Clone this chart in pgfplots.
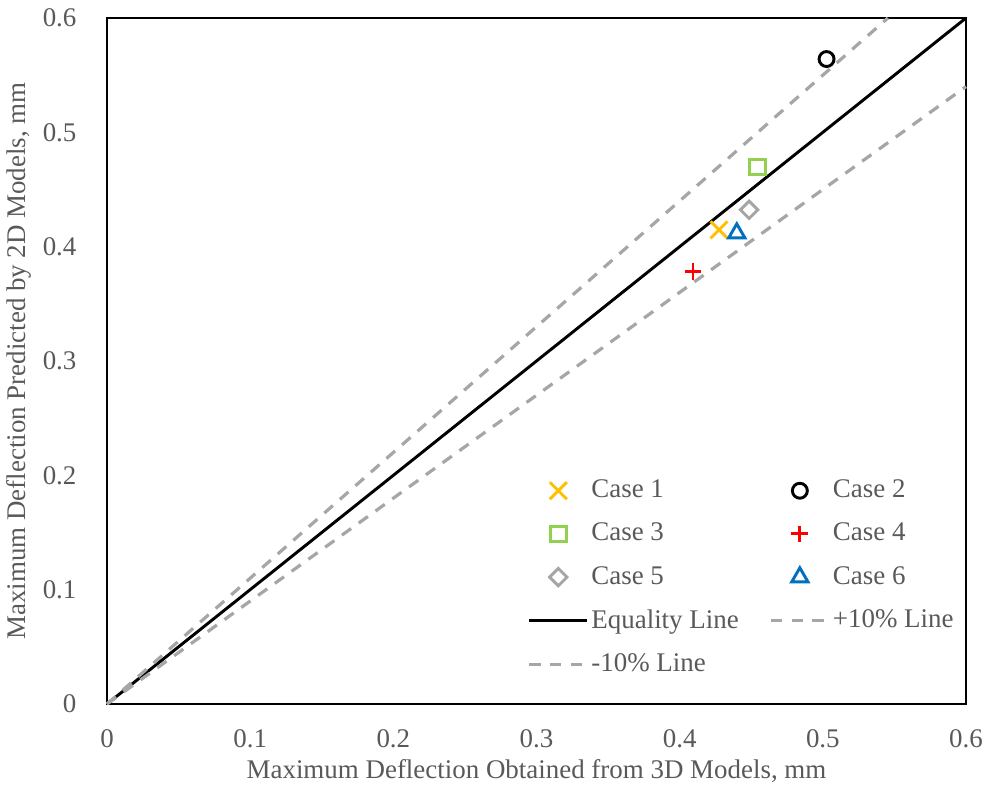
\documentclass[border=0pt]{standalone}
\usepackage{fontspec}
\setmainfont{Liberation Serif}
\usepackage{pgfplots}
\pgfplotsset{compat=1.18}
\definecolor{txtgray}{HTML}{595959}
\definecolor{cOrange}{HTML}{FFC000}
\definecolor{cGreen}{HTML}{92D050}
\definecolor{cRed}{HTML}{FF0000}
\definecolor{cGray}{HTML}{A5A5A5}
\definecolor{cBlue}{HTML}{0070C0}
\definecolor{lineGray}{HTML}{A6A6A6}
\begin{document}
\fontsize{20.2}{24}\selectfont
\begin{tikzpicture}
\useasboundingbox (-80.25pt,-61.5pt) rectangle (661.5pt,528pt);
\begin{axis}[
  at={(0,0)}, anchor=south west,
  scale only axis,
  width=644.25pt, height=514.5pt,
  xmin=0, xmax=0.6, ymin=0, ymax=0.6,
  xtick={0,0.1,...,0.6}, ytick={0,0.1,...,0.6},
  xticklabels={0,0.1,0.2,0.3,0.4,0.5,0.6},
  yticklabels={0,0.1,0.2,0.3,0.4,0.5,0.6},
  major tick length=0pt,
  axis line style={black, line width=1pt},
  every tick label/.append style={text=txtgray, font=\fontsize{20.2}{24}\selectfont},
  xticklabel style={yshift=-12pt},
  yticklabel style={xshift=-16pt},
  xlabel={Maximum Deflection Obtained from 3D Models, mm},
  ylabel={Maximum Deflection Predicted by 2D Models, mm},
  label style={text=txtgray, font=\fontsize{20.2}{24}\selectfont},
  xlabel style={yshift=5pt},
  ylabel style={yshift=-5pt},
  clip=false,
  legend columns=2,
  legend cell align=left,
  legend image code/.code={\draw[mark repeat=2,mark phase=2,#1] plot coordinates {(0cm,0cm) (0.76cm,0cm) (1.52cm,0cm)};},
  legend style={draw=none, fill=none, at={(axis cs:0.291,0.201)}, anchor=north west,
    font=\fontsize{20.2}{24}\selectfont, text=txtgray,
    row sep=12pt,
    /tikz/every even column/.append style={column sep=21pt}},
]
\addplot[only marks, mark=x, mark size=9pt, cOrange, line width=2.2pt] coordinates {(0.4275,0.4147)};
\addlegendentry{Case 1}
\addplot[only marks, mark=o, mark size=5.6pt, black, line width=2.2pt] coordinates {(0.5026,0.5641)};
\addlegendentry{Case 2}
\addplot[only marks, mark=square, mark size=5.8pt, cGreen, line width=2.2pt] coordinates {(0.4545,0.4696)};
\addlegendentry{Case 3}
\addplot[only marks, mark=+, mark size=6.3pt, cRed, line width=2.2pt] coordinates {(0.4093,0.3782)};
\addlegendentry{Case 4}
\addplot[only marks, mark=square, mark options={rotate=45}, mark size=4.6pt, cGray, line width=2.2pt] coordinates {(0.4485,0.4322)};
\addlegendentry{Case 5}
\addplot[only marks, mark=triangle, mark size=7pt, cBlue, line width=2.2pt] coordinates {(0.4399,0.4118)};
\addlegendentry{Case 6}
\addplot[black, line width=2.2pt, no marks] coordinates {(0,0) (0.6,0.6)};
\addlegendentry{Equality Line}
\addplot[lineGray, line width=2.4pt, dash pattern=on 8.5pt off 7pt, no marks] coordinates {(0,0) (0.54545,0.6)};
\addlegendentry{+10\% Line}
\addplot[lineGray, line width=2.4pt, dash pattern=on 8.5pt off 7pt, no marks] coordinates {(0,0) (0.6,0.54)};
\addlegendentry{-10\% Line}
\end{axis}
\end{tikzpicture}
\end{document}
